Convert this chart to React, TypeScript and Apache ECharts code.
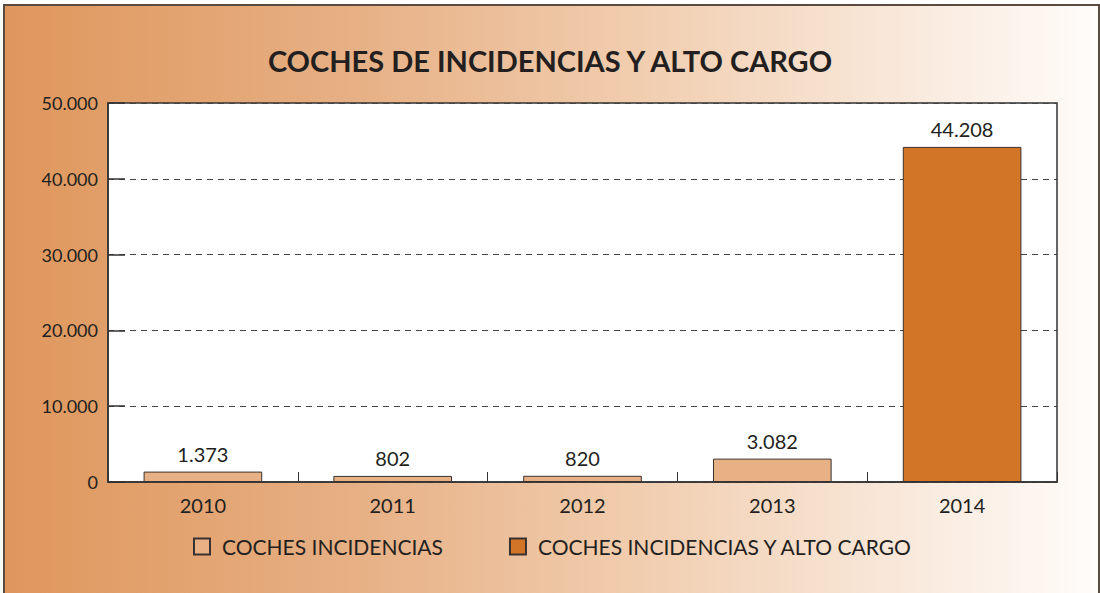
import React, { useEffect, useRef } from "react";
import * as echarts from "echarts";

const categories = ["2010", "2011", "2012", "2013", "2014"];
const seriesNames = ["COCHES INCIDENCIAS", "COCHES INCIDENCIAS Y ALTO CARGO"];
const incidencias: (number | null)[] = [1373, 802, 820, 3082, null];
const incidenciasAltoCargo: (number | null)[] = [null, null, null, null, 44208];
const yTicks = [0, 10000, 20000, 30000, 40000, 50000];
const titleText = "COCHES DE INCIDENCIAS Y ALTO CARGO";

const fmt = (v: number) => String(v).replace(/\B(?=(\d{3})+(?!\d))/g, ".");

const FONT = "Lato, 'Open Sans', sans-serif";
const TXT = "#231f20";

export default function App() {
  const ref = useRef<HTMLDivElement>(null);
  useEffect(() => {
    if (!ref.current) return;
    const chart = echarts.init(ref.current, null, { renderer: "svg" });
    const labelCfg = {
      show: true,
      position: "top",
      distance: 8,
      fontFamily: FONT,
      fontSize: 20,
      color: TXT,
      formatter: (p: any) => fmt(p.value),
    };
    const option: any = {
      animation: false,
      textStyle: { fontFamily: FONT },
      graphic: [
        {
          type: "rect",
          z: -100,
          silent: true,
          shape: { x: 4, y: 5, width: 1095, height: 600 },
          style: {
            fill: new echarts.graphic.LinearGradient(0, 0, 1, 0, [
              { offset: 0, color: "#DF975C" },
              { offset: 0.3, color: "#E6AE82" },
              { offset: 0.55, color: "#F0CAAA" },
              { offset: 0.8, color: "#F8E6D7" },
              { offset: 1, color: "#FFFCFA" },
            ]),
            stroke: "#5a4a40",
            lineWidth: 2,
          },
        },
      ],
      title: {
        text: titleText,
        left: "center",
        top: 41,
        textStyle: { fontFamily: FONT, fontSize: 29, fontWeight: "bold", color: TXT },
      },
      legend: {
        left: 188,
        top: 531,
        itemWidth: 16,
        itemHeight: 16,
        itemGap: 66,
        icon: "rect",
        textStyle: { fontFamily: FONT, fontSize: 21, color: TXT, padding: [0, 0, 0, 7] },
        data: seriesNames,
      },
      grid: {
        left: 108,
        right: 43,
        top: 103,
        bottom: 111,
        show: true,
        backgroundColor: "#ffffff",
        borderColor: "#333333",
        borderWidth: 1.5,
      },
      xAxis: {
        type: "category",
        data: categories,
        axisLine: { lineStyle: { color: "#333333", width: 1.5 } },
        axisTick: { show: true, inside: true, length: 10, lineStyle: { color: "#333333" } },
        axisLabel: { fontFamily: FONT, fontSize: 20, color: TXT, margin: 13 },
      },
      yAxis: {
        type: "value",
        min: yTicks[0],
        max: yTicks[yTicks.length - 1],
        interval: yTicks[1] - yTicks[0],
        axisLine: { show: true, lineStyle: { color: "#333333", width: 1.5 } },
        axisTick: { show: true, inside: true, length: 17, lineStyle: { color: "#333333", width: 1.5 } },
        axisLabel: { fontFamily: FONT, fontSize: 18, color: TXT, margin: 10, formatter: (v: number) => fmt(v) },
        splitLine: { show: true, lineStyle: { color: "#444444", type: [6, 5], width: 1 } },
      },
      series: [
        {
          name: seriesNames[0],
          type: "bar",
          data: incidencias,
          barWidth: "62.5%",
          barGap: "-100%",
          itemStyle: { color: "#E8B085", borderColor: "#3a3230", borderWidth: 1 },
          label: labelCfg,
        },
        {
          name: seriesNames[1],
          type: "bar",
          data: incidenciasAltoCargo,
          barWidth: "62.5%",
          barGap: "-100%",
          itemStyle: { color: "#D37527", borderColor: "#3a3230", borderWidth: 1 },
          label: labelCfg,
        },
      ],
    };
    chart.setOption(option);
    return () => chart.dispose();
  }, []);
  return (
    <div
      ref={ref}
      style={{ position: "absolute", left: 0, top: 0, width: 1100, height: 593 }}
    />
  );
}
